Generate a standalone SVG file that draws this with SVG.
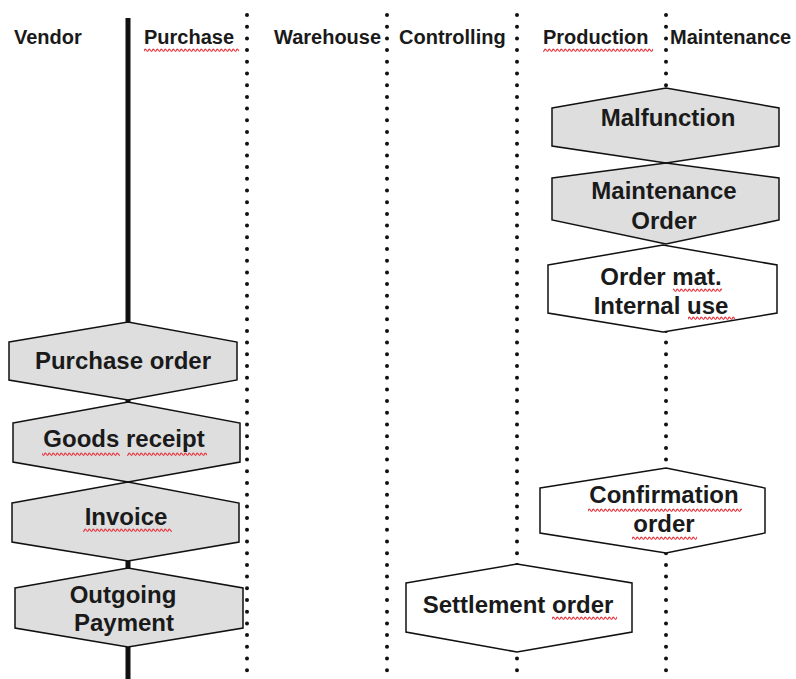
<svg xmlns="http://www.w3.org/2000/svg" width="796" height="679" viewBox="0 0 796 679">
  <style>
    .hdr { font-family: "Liberation Sans", Arial, sans-serif; font-weight: bold; font-size: 20px; fill: #1a1a1a; }
    .lbl { font-family: "Liberation Sans", Arial, sans-serif; font-weight: bold; font-size: 24px; fill: #1a1a1a; text-anchor: middle; }
    .gray { fill: #dedede; stroke: #111; stroke-width: 1.5; }
    .white { fill: #ffffff; stroke: #111; stroke-width: 1.5; }
    .dot { stroke: #111; stroke-width: 4; stroke-linecap: round; stroke-dasharray: 0 11.7; fill: none; }
    .solid { stroke: #111; stroke-width: 5; fill: none; }
    .sq { fill: url(#squig); }
  </style>
  <defs>
    <pattern id="squig" width="4" height="4" patternUnits="userSpaceOnUse">
      <path d="M0 3.2 Q1 0 2 1.8 T4 3.2" stroke="#e8404a" stroke-width="1.3" fill="none"/>
    </pattern>
  </defs>
  <rect width="796" height="679" fill="#ffffff"/>

  <g id="headers">
    <text class="hdr" x="14" y="44">Vendor</text>
    <text class="hdr" x="144" y="44">Purchase</text>
    <text class="hdr" x="274" y="44">Warehouse</text>
    <text class="hdr" x="399" y="44">Controlling</text>
    <text class="hdr" x="543" y="44">Production</text>
    <text class="hdr" x="670" y="44">Maintenance</text>
    <rect class="sq" x="144" y="48" width="95" height="4"/>
    <rect class="sq" x="543" y="48" width="110" height="4"/>
  </g>

  <g id="connectors">
    <line class="solid" x1="128" y1="18" x2="128" y2="679"/>
    <line class="dot" x1="247" y1="15" x2="247" y2="679"/>
    <line class="dot" x1="387" y1="15" x2="387" y2="679"/>
    <line class="dot" x1="517" y1="15" x2="517" y2="679"/>
    <line class="dot" x1="666" y1="15" x2="666" y2="679"/>
  </g>

  <g id="malfunction">
    <polygon class="gray" points="552,108 666,88 779,108 779,146 666,163 552,146"/>
    <text class="lbl" x="668" y="126">Malfunction</text>
  </g>
  <g id="maintenance-order">
    <polygon class="gray" points="552,178 666,163 779,178 779,220 666,244 552,220"/>
    <text class="lbl" x="664" y="199">Maintenance</text>
    <text class="lbl" x="664" y="229">Order</text>
  </g>
  <g id="order-mat">
    <polygon class="white" points="548,265 663,245 777,265 777,313 663,332 548,313"/>
    <text class="lbl" x="661" y="285">Order mat.</text>
    <text class="lbl" x="661" y="314">Internal use</text>
    <rect class="sq" x="673" y="288" width="49" height="4"/>
    <rect class="sq" x="688" y="316" width="47" height="4"/>
  </g>
  <g id="purchase-order">
    <polygon class="gray" points="9,342 128,322 237,342 237,380 128,400 9,380"/>
    <text class="lbl" x="123" y="369">Purchase order</text>
  </g>
  <g id="goods-receipt">
    <polygon class="gray" points="13,423 128,402 240,423 240,462 128,482 13,462"/>
    <text class="lbl" x="124" y="447">Goods receipt</text>
    <rect class="sq" x="42" y="452" width="78" height="4"/>
    <rect class="sq" x="127" y="452" width="80" height="4"/>
  </g>
  <g id="invoice">
    <polygon class="gray" points="12,503 128,482 239,503 239,542 128,561 12,542"/>
    <text class="lbl" x="126" y="525">Invoice</text>
    <rect class="sq" x="83" y="528" width="89" height="4"/>
  </g>
  <g id="outgoing-payment">
    <polygon class="gray" points="15,588 128,568 243,588 243,628 128,647 15,628"/>
    <text class="lbl" x="123" y="603">Outgoing</text>
    <text class="lbl" x="124" y="631">Payment</text>
  </g>
  <g id="confirmation-order">
    <polygon class="white" points="540,488 666,468 765,488 765,533 666,553 540,533"/>
    <text class="lbl" x="664" y="503">Confirmation</text>
    <text class="lbl" x="664" y="532">order</text>
    <rect class="sq" x="588" y="508" width="154" height="4"/>
    <rect class="sq" x="632" y="536" width="65" height="4"/>
  </g>
  <g id="settlement-order">
    <polygon class="white" points="406,583 517,564 632,583 632,632 517,652 406,632"/>
    <text class="lbl" x="518" y="613">Settlement order</text>
    <rect class="sq" x="552" y="616" width="65" height="4"/>
  </g>
</svg>
